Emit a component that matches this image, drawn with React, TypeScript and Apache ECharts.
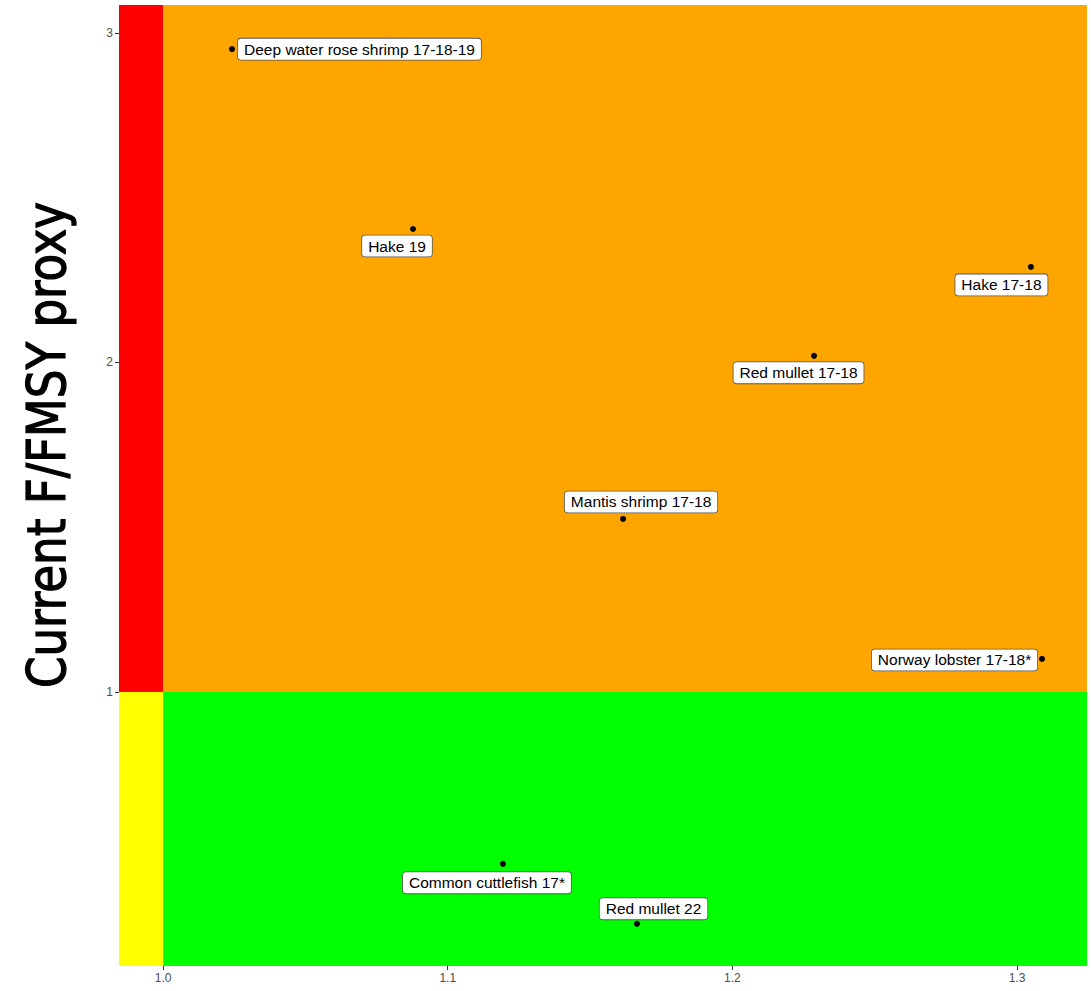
import React, { useEffect, useRef } from "react";
import * as echarts from "echarts";

const stockNames = [
  "Deep water rose shrimp 17-18-19",
  "Hake 19",
  "Hake 17-18",
  "Red mullet 17-18",
  "Mantis shrimp 17-18",
  "Norway lobster 17-18*",
  "Common cuttlefish 17*",
  "Red mullet 22",
];
const currentB = [1.0242, 1.0878, 1.3049, 1.2287, 1.1616, 1.3088, 1.1194, 1.1665];
const currentF = [2.951, 2.405, 2.29, 2.02, 1.525, 1.1, 0.478, 0.296];

const xTicks = [1.0, 1.1, 1.2, 1.3];
const yTicks = [1, 2, 3];

// label placement (styling): offset of the label box centre from the point, px
const labelOffsets: [number, number][] = [
  [127.5, 0],
  [-16, 17],
  [-29.5, 18],
  [-15.5, 17],
  [18, -17],
  [-87.5, 1],
  [-16, 19],
  [16.5, -15],
];

const X_MIN = 0.9845;
const X_MAX = 1.3246;
const Y_MIN = 0.168;
const Y_MAX = 3.085;

export default function App() {
  const ref = useRef<HTMLDivElement>(null);
  useEffect(() => {
    if (!ref.current) return;
    const chart = echarts.init(ref.current, null, { renderer: "svg" });
    const data = stockNames.map((n, i) => ({
      name: n,
      value: [currentB[i], currentF[i]],
      label: { offset: labelOffsets[i] },
    }));
    const tickLabel = {
      color: "#4d4d4d",
      fontSize: 12,
      margin: 6,
      fontFamily: "Liberation Sans, Arial, sans-serif",
    };
    chart.setOption({
      animation: false,
      grid: { left: 119, right: 4, top: 5, bottom: 25 },
      xAxis: {
        type: "value",
        min: X_MIN,
        max: X_MAX,
        splitLine: { show: false },
        axisLine: { show: false },
        axisTick: { show: true, length: 4, lineStyle: { color: "#333" }, customValues: xTicks },
        axisLabel: {
          ...tickLabel,
          customValues: xTicks,
          formatter: (v: number) => v.toFixed(1),
        },
      },
      yAxis: {
        type: "value",
        min: Y_MIN,
        max: Y_MAX,
        splitLine: { show: false },
        axisLine: { show: false },
        axisTick: { show: true, length: 4, lineStyle: { color: "#333" }, customValues: yTicks },
        axisLabel: {
          ...tickLabel,
          customValues: yTicks,
          formatter: (v: number) => String(v),
        },
      },
      graphic: [
        {
          type: "text",
          x: 46,
          y: 445,
          rotation: Math.PI / 2,
          scaleX: 0.93,
          style: {
            text: "Current F/FMSY proxy",
            fontSize: 54,
            fontFamily: "DejaVu Sans Condensed, DejaVu Sans, sans-serif",
            fill: "#000",
            stroke: "#000",
            lineWidth: 1.2,
            textAlign: "center",
            textVerticalAlign: "middle",
          },
        },
      ],
      series: [
        {
          type: "scatter",
          symbolSize: 6,
          itemStyle: { color: "#000", opacity: 1 },
          data,
          z: 5,
          label: {
            show: true,
            position: "inside",
            formatter: "{b}",
            color: "#000",
            fontSize: 15.5,
            lineHeight: 16,
            fontFamily: "Liberation Sans, Arial, sans-serif",
            backgroundColor: "#ffffff",
            borderColor: "#555",
            borderWidth: 0.8,
            borderRadius: 3,
            padding: [3, 6, 2, 6],
          },
          markArea: {
            silent: true,
            data: [
              [
                { xAxis: X_MIN, yAxis: 1, itemStyle: { color: "#FF0000" } },
                { xAxis: 1.0, yAxis: Y_MAX },
              ],
              [
                { xAxis: 1.0, yAxis: 1, itemStyle: { color: "#FFA500" } },
                { xAxis: X_MAX, yAxis: Y_MAX },
              ],
              [
                { xAxis: X_MIN, yAxis: Y_MIN, itemStyle: { color: "#FFFF00" } },
                { xAxis: 1.0, yAxis: 1 },
              ],
              [
                { xAxis: 1.0, yAxis: Y_MIN, itemStyle: { color: "#00FF00" } },
                { xAxis: X_MAX, yAxis: 1 },
              ],
            ],
            itemStyle: { opacity: 1 },
            label: { show: false },
          },
        },
      ],
    });
    return () => chart.dispose();
  }, []);
  return (
    <div
      ref={ref}
      style={{ position: "absolute", left: 0, top: 0, width: 1091, height: 991 }}
    />
  );
}
